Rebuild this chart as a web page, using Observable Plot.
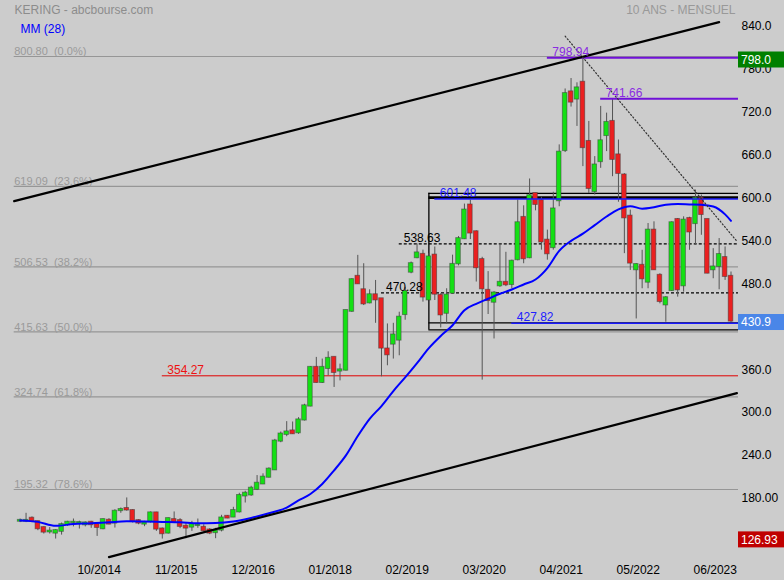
<!DOCTYPE html>
<html>
<head>
<meta charset="utf-8">
<script src="https://cdn.jsdelivr.net/npm/d3@7"></script>
<script src="https://cdn.jsdelivr.net/npm/@observablehq/plot@0.6"></script>
<style>
  html, body { margin: 0; padding: 0; background: #cccccc; }
  #chart svg { display: block; }
</style>
</head>
<body>
<div id="chart"></div>
<script>
// ---------------- DATA ----------------
const firstMonth = "2013-09"; // consecutive monthly candles from here

const opens = [
  151, 151, 155, 150.3, 141.9, 136, 134.4, 136.9, 146.1, 149,
  148.5, 146, 149.4, 146, 140.5, 152.2, 148.4, 165.8, 168.6, 165.8,
  151.7, 147, 150.8, 162.5, 140, 134.4, 153.1, 151.7, 143.8, 142.8,
  145, 142.3, 138.6, 135, 138.6, 157.7, 156.8, 164, 186.3, 187.7,
  195.6, 203.1, 212.5, 222.8, 263, 272.4, 277.1, 274.7, 292.5, 312,
  366, 345, 364.6, 380, 361, 362.2, 444.6, 493.3, 474.5, 456.3,
  467.5, 461.9, 391.7, 398.7, 404.3, 440, 499.3, 519.5, 524, 460.5,
  523, 466.6, 441.8, 470, 511, 546, 593, 555.6, 516.7, 473.7,
  457.3, 480.2, 484.9, 482, 516.7, 575.7, 519.5, 609, 599, 543.9,
  533.6, 599.1, 669.3, 751.2, 741.4, 764.7, 681.9, 612, 653.8, 690.3,
  709.9, 663.1, 635, 577.5, 502.6, 508.7, 485.3, 557.9, 494.7, 453.5,
  473.6, 572.8, 480.2, 574.2, 567.2, 602.3, 572.8, 502.6, 507.3, 519.5, 493.3
];
const highs = [
  154, 162, 157, 151, 143, 142, 139, 148.4, 150.8, 154,
  151, 150, 150.8, 148, 154, 154.5, 167, 169.5, 183.5, 167,
  153, 150.8, 163.9, 163.4, 141.4, 155.4, 163.9, 154.5, 148.4, 150.8,
  154, 146.1, 140.5, 141, 159.2, 158.7, 170.4, 190, 192.8, 199.8,
  214.8, 217.2, 225.6, 265.4, 275.7, 290.2, 289.7, 295.8, 314.5, 367,
  380, 377.7, 387.9, 380.5, 370.6, 446, 490, 522.7, 511, 474.5,
  487.6, 462, 426.8, 427.7, 443.2, 478, 513.4, 538.63, 530, 525,
  534.4, 469, 476, 523, 549, 594.4, 600, 557, 520, 500,
  472, 539, 527, 516, 600, 592, 629.5, 609.5, 604, 558,
  611, 677.2, 755.4, 770, 764, 798.94, 710, 660.8, 731, 721.6,
  741.66, 684, 637, 586, 511, 529.8, 567.2, 569.6, 497, 465,
  569.6, 574.2, 576.6, 576, 614, 607, 573, 532.1, 546.2, 534.5, 499.4
];
const lows = [
  149, 149, 149, 137.7, 133, 133, 126, 131.5, 143.8, 143,
  140, 143, 141, 129.7, 139, 146, 141.4, 162, 165, 148.4,
  146, 143.3, 148.4, 136.7, 126, 133, 148.4, 140.5, 126.5, 136.7,
  141, 135.8, 132.1, 126.5, 136, 154.5, 156, 162.5, 176.4, 185.8,
  193.8, 202.2, 211.5, 221.8, 260.7, 269.1, 272.4, 272.4, 291.1, 311,
  344, 343.5, 354.3, 338, 347.2, 361, 443, 482, 452.5, 454.9,
  427.7, 352.9, 368.3, 377.7, 382.3, 432, 497, 518, 457.3, 459.6,
  459.6, 421.2, 426.8, 468, 508, 544.8, 544.8, 485.4, 348.2, 440,
  405.8, 478, 479, 476, 515, 511, 518, 585, 530, 516,
  530, 590.7, 666.5, 730.1, 703, 646.8, 609.3, 607, 644.4, 667.8,
  632.7, 597, 525.1, 501.7, 433.8, 476, 476, 501.7, 454.9, 429.2,
  472.2, 464.3, 471.3, 529.8, 536.8, 550.8, 497, 490, 474.6, 487.7, 429
];
const closes = [
  152, 152, 151, 140.5, 135.8, 137, 137.7, 146.1, 149.4, 149.4,
  149, 148.5, 146.1, 142.3, 153.1, 147, 164.8, 167.2, 166.7, 150.8,
  148.4, 148.4, 162.5, 140, 133.5, 154.5, 149.8, 143.8, 141.4, 146.1,
  145.2, 137.7, 134.4, 137, 155.4, 155.4, 165.8, 186.8, 190, 197,
  204, 212.5, 223.7, 263, 272.8, 275.7, 273.3, 292.5, 312.2, 366,
  345, 366, 378.6, 359, 362.5, 445.5, 488.6, 483, 454.9, 467.5,
  460.5, 393.1, 383.7, 411.3, 436.2, 472, 511, 526, 464.5, 520.4,
  468.5, 439.5, 467, 510, 546, 586, 554, 505.5, 476, 459.6,
  470, 484.9, 481.6, 514.4, 568.2, 518, 606, 594, 541.5, 525,
  587.5, 666.9, 748.8, 737.1, 756.8, 673.4, 616.3, 649, 682.8, 708.5,
  657, 637.4, 575.2, 512, 509.7, 490, 557.9, 502.6, 458.2, 463.3,
  568.2, 474.6, 571.9, 555.5, 602.3, 579.9, 497.9, 506.4, 523.7, 493.3, 430.9
];

// Moving average MM(28)
const maMonths = ["2013-09","2013-12","2014-03","2014-06","2014-09","2014-12","2015-03","2015-06","2015-09","2015-12",
  "2016-03","2016-06","2016-09","2016-12","2017-03","2017-06","2017-08","2017-10","2017-12","2018-02",
  "2018-04","2018-06","2018-08","2018-10","2018-12","2019-02","2019-04","2019-06","2019-08","2019-10",
  "2019-12","2020-02","2020-04","2020-06","2020-08","2020-10","2020-12","2021-02","2021-04","2021-06",
  "2021-08","2021-10","2021-12","2022-02","2022-04","2022-06","2022-08","2022-10","2022-12","2023-02",
  "2023-04","2023-06","2023-08","2023-09"];
const maValues = [152, 150, 144.5, 147, 148, 149.5, 150.8, 150.6, 150, 149.4,
  148, 148.3, 150.5, 155.5, 162, 170, 180, 189, 203, 222,
  243, 270, 294, 312, 333, 352, 372, 393, 410, 425,
  446, 455, 462, 469, 475, 482, 489, 505, 529, 543,
  553, 565, 577, 587, 591.5, 588, 590, 593.5, 594.5, 594,
  593.5, 591, 580, 571];

// Fibonacci retracement levels
const fibValues = [800.80, 619.09, 506.53, 415.63, 324.74, 195.32];
const fibLabels = ["800.80  (0.0%)", "619.09  (23.6%)", "506.53  (38.2%)", "415.63  (50.0%)", "324.74  (61.8%)", "195.32  (78.6%)"];
const fibFrom = "2013-08";

// Horizontal annotated levels
const dashedValues = [538.63, 470.28];
const dashedFrom = ["2019-01", "2018-10"];
const purpleValues = [798.94, 741.66];
const purpleFrom = ["2021-02", "2021-11"];
const blueValues = [601.48, 427.82];
const blueFrom = ["2019-07", "2020-08"];
const redValues = [354.27];
const redFrom = ["2015-09"];

// Range box
const boxFrom = "2019-06";
const boxEdges = [609.4, 418.5];
const boxInnerValues = [603.5, 428.2];
const boxInnerWidths = [2.6, 1.2];

// Trend lines
const upperTrendMonths = ["2013-08", "2023-07"];
const upperTrendValues = [598.5, 848.8];
const lowerTrendMonths = ["2014-12", "2023-10"];
const lowerTrendValues = [100.8, 330];
const dottedMonths = ["2021-05", "2023-10"];
const dottedValues = [829.2, 542.4];

// Axes
const yTicks = [840, 780, 720, 660, 600, 540, 480, 360, 300, 240, 180];
const yTickLabels = ["840.0", "780.0", "720.0", "660.0", "600.0", "540.0", "480.0", "360.0", "300.0", "240.0", "180.00"];
const xTickLabels = ["10/2014", "11/2015", "12/2016", "01/2018", "02/2019", "03/2020", "04/2021", "05/2022", "06/2023"];

// Price boxes on the right
const priceBoxValues = [798.0, 430.9, 126.93];
const priceBoxLabels = ["798.0", "430.9", "126.93"];
const priceBoxColors = ["#008000", "#4a86e8", "#c00000"];

const titleLeft = "KERING - abcbourse.com";
const titleRight = "10 ANS - MENSUEL";
const maLabel = "MM (28)";

// ---------------- BUILD ----------------
const monthIndex = s => { const [y, m] = s.split("-").map(Number); return (y - 2013) * 12 + (m - 8); };
const slashIndex = s => { const [m, y] = s.split("/").map(Number); return (y - 2013) * 12 + (m - 8); };
const i0 = monthIndex(firstMonth);
const candles = opens.map((o, k) => ({i: i0 + k, o, h: highs[k], l: lows[k], c: closes[k]}));
const ma = maMonths.map((m, k) => ({i: monthIndex(m), v: maValues[k]}));

const xDomain = [-13.7 / 5.924, (738 - 13.7) / 5.924];
const xEnd = xDomain[1];
const fib = fibValues.map((v, k) => ({v, label: fibLabels[k], from: monthIndex(fibFrom)}));
const rows = (vals, froms) => vals.map((v, k) => ({v, from: monthIndex(froms[k]), label: v.toFixed(2)}));
const dashed = rows(dashedValues, dashedFrom);
const purple = rows(purpleValues, purpleFrom);
const blue = rows(blueValues, blueFrom);
const red = rows(redValues, redFrom);
const bFrom = monthIndex(boxFrom);
const boxH = boxEdges.map(v => ({v, from: bFrom}));
const boxInner = boxInnerValues.map((v, k) => ({v, from: bFrom, w: boxInnerWidths[k]}));
const seg = (ms, vs) => ms.map((m, k) => ({i: monthIndex(m), v: vs[k]}));
const upper = seg(upperTrendMonths, upperTrendValues);
const lower = seg(lowerTrendMonths, lowerTrendValues);
const dotted = seg(dottedMonths, dottedValues);
const yLabelMap = new Map(yTicks.map((t, k) => [t, yTickLabels[k]]));
const xTicks = xTickLabels.map(slashIndex);
const xLabelMap = new Map(xTicks.map((t, k) => [t, xTickLabels[k]]));

const GREEN = "#14e014", RED = "#ea2020";

const plot = Plot.plot({
  width: 784, height: 580,
  marginLeft: 0, marginRight: 46, marginTop: 0, marginBottom: 22,
  style: {background: "#cccccc", fontFamily: "'Liberation Sans', Arial, Helvetica, sans-serif", fontSize: "12px", overflow: "visible"},
  x: {type: "linear", domain: xDomain, axis: null},
  y: {type: "linear", domain: [98.8, 879.1], axis: null},
  marks: [
    // Fibonacci levels
    Plot.ruleY(fib, {y: "v", x1: "from", x2: () => xEnd, stroke: "#969696", strokeWidth: 1.2}),
    Plot.text(fib, {x: "from", y: "v", text: "label", textAnchor: "start", lineAnchor: "bottom", dy: -1, fill: "#9a9a9a", fontSize: 11}),
    // red level
    Plot.ruleY(red, {y: "v", x1: "from", x2: () => xEnd, stroke: "#e00000", strokeWidth: 1}),
    // range box
    Plot.ruleY(boxH, {y: "v", x1: "from", x2: () => xEnd, stroke: "#000", strokeWidth: 1.3}),
    Plot.ruleX([bFrom], {x: d => d, y1: boxEdges[1], y2: boxEdges[0], stroke: "#000", strokeWidth: 1.3}),
    Plot.ruleY(boxInner, {y: "v", x1: "from", x2: () => xEnd, stroke: "#000", strokeWidth: "w"}),
    // dashed levels
    Plot.ruleY(dashed, {y: "v", x1: "from", x2: () => xEnd, stroke: "#000", strokeWidth: 1.2, strokeDasharray: "3,2"}),
    // candles
    Plot.ruleX(candles, {x: "i", y1: "l", y2: "h", stroke: "#555", strokeWidth: 1}),
    Plot.rect(candles, {
      x1: d => d.i - 0.39, x2: d => d.i + 0.39, y1: "o", y2: "c",
      fill: d => (d.c >= d.o ? GREEN : RED),
      stroke: "#3a3a3a", strokeOpacity: 0.55, strokeWidth: 0.9,
      insetTop: -0.6, insetBottom: -0.6
    }),
    // blue levels and purple levels
    Plot.ruleY(blue, {y: "v", x1: "from", x2: () => xEnd, stroke: "#1a1aff", strokeWidth: 1.6}),
    Plot.ruleY(purple, {y: "v", x1: "from", x2: () => xEnd, stroke: "#7010d8", strokeWidth: 2}),
    // moving average
    Plot.line(ma, {x: "i", y: "v", stroke: "#0000ff", strokeWidth: 2, curve: "monotone-x"}),
    // trend lines
    Plot.line(upper, {x: "i", y: "v", stroke: "#000", strokeWidth: 2.2}),
    Plot.line(lower, {x: "i", y: "v", stroke: "#000", strokeWidth: 2.2}),
    Plot.line(dotted, {x: "i", y: "v", stroke: "#333", strokeWidth: 1.2, strokeDasharray: "1.2,2.2"}),
    // level labels
    Plot.text(dashed, {x: "from", y: "v", text: "label", textAnchor: "start", lineAnchor: "bottom", dx: 4.5, dy: -2, fill: "#000", fontSize: 12}),
    Plot.text(red, {x: "from", y: "v", text: "label", textAnchor: "start", lineAnchor: "bottom", dx: 5, dy: -2, fill: "#ee1111", fontSize: 12}),
    Plot.text(purple, {x: "from", y: "v", text: "label", textAnchor: "start", lineAnchor: "bottom", dx: 5, dy: -2, fill: "#8a2be2", fontSize: 12}),
    Plot.text(blue, {x: "from", y: "v", text: "label", textAnchor: "start", lineAnchor: "bottom", dx: 5, dy: -2, fill: "#2020ff", fontSize: 12}),
    // titles
    Plot.text([titleLeft], {frameAnchor: "top-left", text: d => d, dx: 14, dy: 5, textAnchor: "start", lineAnchor: "top", fill: "#8c8c8c", fontSize: 12}),
    Plot.text([titleRight], {frameAnchor: "top-right", text: d => d, dx: -3, dy: 5, textAnchor: "end", lineAnchor: "top", fill: "#999", fontSize: 12}),
    Plot.text([maLabel], {frameAnchor: "top-left", text: d => d, dx: 20, dy: 24, textAnchor: "start", lineAnchor: "top", fill: "#0000ff", fontSize: 12}),
    // axes
    Plot.axisY(yTicks, {anchor: "right", tickSize: 0, tickPadding: 3, tickFormat: d => yLabelMap.get(d), dy: -2, label: null, fontSize: 12}),
    Plot.axisX(xTicks, {anchor: "bottom", tickSize: 0, tickPadding: 7, tickFormat: d => xLabelMap.get(d), dx: 2, label: null, fontSize: 12})
  ]
});

// price boxes at the right, positioned through the plot's y scale
const ys = plot.scale("y");
const g = d3.select(plot).append("g").attr("text-anchor", "start");
priceBoxValues.forEach((v, k) => {
  const cy = ys.apply(v) + 1.5;
  g.append("rect").attr("x", 738).attr("y", cy - 8).attr("width", 46).attr("height", 16).attr("fill", priceBoxColors[k]);
  g.append("text").attr("x", 741).attr("y", cy + 4.2).attr("fill", "#fff").attr("text-anchor", "start")
    .attr("font-size", 12).attr("font-family", "'Liberation Sans', Arial, sans-serif").text(priceBoxLabels[k]);
});

document.getElementById("chart").appendChild(plot);
</script>
</body>
</html>
